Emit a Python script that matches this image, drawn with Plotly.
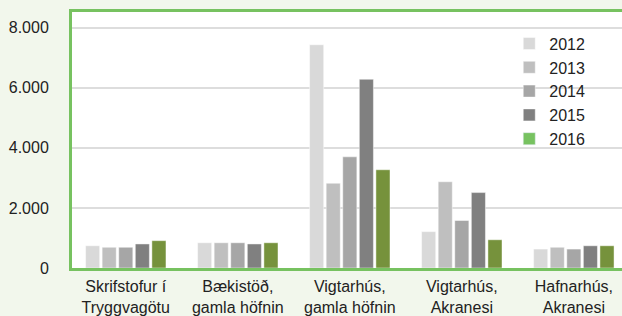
import plotly.graph_objects as go

categories = ["Skrifstofur í<br>Tryggvagötu", "Bækistöð,<br>gamla höfnin", "Vigtarhús,<br>gamla höfnin",
              "Vigtarhús,<br>Akranesi", "Hafnarhús,<br>Akranesi"]
years = ["2012", "2013", "2014", "2015", "2016"]
v2012 = [740, 840, 7430, 1210, 630]
v2013 = [690, 840, 2820, 2870, 690]
v2014 = [690, 840, 3700, 1580, 630]
v2015 = [800, 800, 6280, 2510, 740]
v2016 = [910, 840, 3270, 940, 740]
series = [v2012, v2013, v2014, v2015, v2016]
bar_colors = ["#D9D9D9", "#BFBFBF", "#A6A6A6", "#808080", "#76923C"]
legend_colors = ["#D9D9D9", "#BFBFBF", "#A6A6A6", "#808080", "#77C260"]
y_ticks = [0, 2000, 4000, 6000, 8000]
y_ticktext = ["0", "2.000", "4.000", "6.000", "8.000"]

FONT = "Liberation Sans, Arial, sans-serif"

fig = go.Figure()
for i, (yr, vals) in enumerate(zip(years, series)):
    fig.add_trace(go.Bar(
        x=categories, y=vals, name=yr,
        marker=dict(color=bar_colors[i], line=dict(color="rgba(255,255,255,0.45)", width=1)),
        showlegend=(i < 4), legendgroup=yr,
    ))
# legend-only entry for 2016 (lighter green swatch), on a hidden overlay axis
fig.add_trace(go.Bar(x=[None], y=[None], name=years[4], marker=dict(color=legend_colors[4]),
                     xaxis="x2", yaxis="y2", showlegend=True, legendgroup=years[4]))

fig.update_layout(
    width=622, height=316,
    margin=dict(l=72, r=0, t=12, b=48),
    paper_bgcolor="#F2F7EC", plot_bgcolor="#FFFFFF",
    barmode="group", bargap=0.26, bargroupgap=0.15,
    font=dict(family=FONT, size=16, color="#222222"),
    xaxis=dict(type="category", range=[-0.48, 4.43], showgrid=False,
               showline=True, linecolor="#77C260", linewidth=3, mirror=True,
               ticks="", tickfont=dict(size=16), ticklabelstandoff=2, automargin=False),
    yaxis=dict(range=[0, 8520], tickvals=y_ticks, ticktext=y_ticktext,
               showgrid=True, gridcolor="#DDDDDD", gridwidth=1.5,
               showline=True, linecolor="#77C260", linewidth=3,
               zeroline=False, ticks="", ticklabelstandoff=17, tickfont=dict(size=16),
               automargin=False),
    xaxis2=dict(overlaying="x", visible=False, range=[0, 1]),
    yaxis2=dict(overlaying="y", visible=False, range=[0, 1]),
    legend=dict(x=0.795, xanchor="left", y=0.943, yanchor="top", bgcolor="rgba(0,0,0,0)",
                font=dict(size=16), tracegroupgap=0, itemclick=False),
)

fig.write_html("out.html", config={"displayModeBar": False},
               post_script="document.body.style.margin='0';")
